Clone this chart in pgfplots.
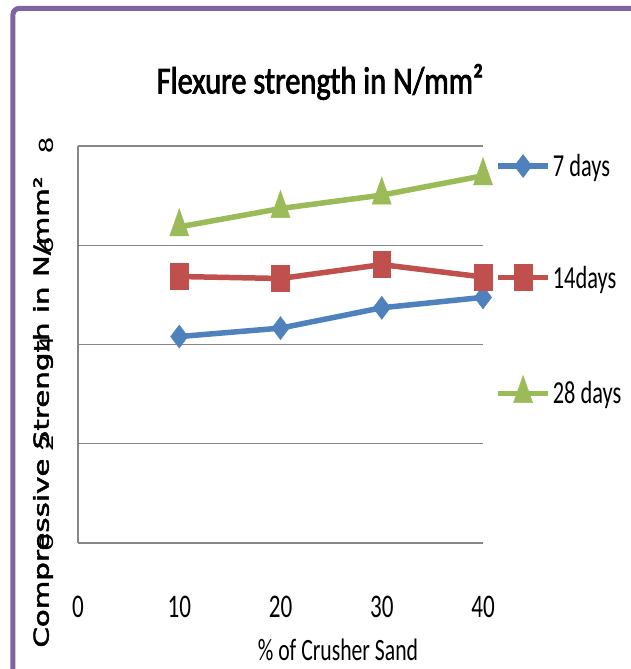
\documentclass[border=0pt]{standalone}
\usepackage{fontspec}
\usepackage{pgfplots}
\pgfplotsset{compat=1.18}
\setmainfont{Carlito}
\newfontfamily\titlefont[FakeStretch=0.8, FakeBold=2]{Carlito}
\newfontfamily\narrowfont[FakeStretch=0.7]{Carlito}
\newfontfamily\ytfont[FakeStretch=1.5]{Carlito}
\newfontfamily\ylabfont[FakeStretch=1.43, FakeBold=2.5]{DejaVu Sans}

\definecolor{c7}{HTML}{4F81BD}
\definecolor{c14}{HTML}{C0504D}
\definecolor{c28}{HTML}{9BBB59}
\definecolor{gridgray}{HTML}{868686}
\definecolor{framepurple}{HTML}{8064A2}

\begin{document}
\begin{tikzpicture}
\begin{axis}[
    scale only axis,
    width=405pt, height=397pt,
    xmin=0, xmax=40, ymin=0, ymax=8,
    xtick={0,10,20,30,40}, ytick={0,2,4,6,8},
    axis lines=left,
    hide obscured x ticks=false,
    hide obscured y ticks=false,
    axis line style={-, draw=gridgray, line width=1.3pt},
    ymajorgrids,
    major grid style={draw=gridgray, line width=1.3pt},
    tick style={draw=none},
    clip=false,
    /pgf/number format/assume math mode=true,
    xticklabel style={font=\narrowfont\fontsize{33}{36}\selectfont, anchor=center, yshift=-62pt},
    yticklabel style={font=\ytfont\fontsize{21}{24}\selectfont, anchor=center, xshift=-29pt, rotate=90},
    title={Flexure strength in N/mm²},
    title style={font=\titlefont\fontsize{38}{42}\selectfont, at={(axis description cs:0.5975,1)}, anchor=center, yshift=58pt},
    xlabel={\% of Crusher Sand},
    xlabel style={font=\narrowfont\fontsize{31}{34}\selectfont, at={(axis description cs:0.642,0)}, anchor=center, yshift=-107pt},
    ylabel={Compressive Strength in N/mm²},
    ylabel style={font=\ylabfont\fontsize{20.5}{23}\selectfont, at={(axis description cs:0,0.33)}, anchor=center, yshift=35pt},
    legend style={at={(axis description cs:1.03,0.985)}, anchor=north west, draw=none, fill=none, inner sep=0pt,
        font=\narrowfont\fontsize{32}{35}\selectfont, row sep=84pt, column sep=0pt,
        cells={anchor=west}},
    legend image code/.code={\draw[mark repeat=2, mark phase=2, #1] plot coordinates {(0pt,0pt) (25pt,0pt) (50pt,0pt)};},
]
\addplot[color=c7, line width=5.5pt, mark=diamond*, mark size=11.5pt, mark options={solid, fill=c7, draw=c7, line width=0.5pt}]
    coordinates {(10,4.16) (20,4.33) (30,4.74) (40,4.95)};
\addlegendentry{7 days}
\addplot[color=c14, line width=5.5pt, mark=square*, mark size=13pt, mark options={solid, fill=c14, draw=c14, line width=0.5pt, xscale=0.69}]
    coordinates {(10,5.37) (20,5.33) (30,5.61) (40,5.36)};
\addlegendentry{14days}
\addplot[color=c28, line width=5.5pt, mark=triangle*, mark size=18pt, mark options={solid, fill=c28, draw=c28, line width=0.5pt, xscale=0.61}]
    coordinates {(10,6.37) (20,6.74) (30,7.01) (40,7.40)};
\addlegendentry{28 days}
\end{axis}
\draw[framepurple, line width=5pt, rounded corners=6pt] (-65pt,-140pt) -- (-65pt,534.5pt) -- (570pt,534.5pt);
\pgfresetboundingbox
\useasboundingbox (-78pt,-126pt) rectangle (552pt,543pt);
\end{tikzpicture}
\end{document}
